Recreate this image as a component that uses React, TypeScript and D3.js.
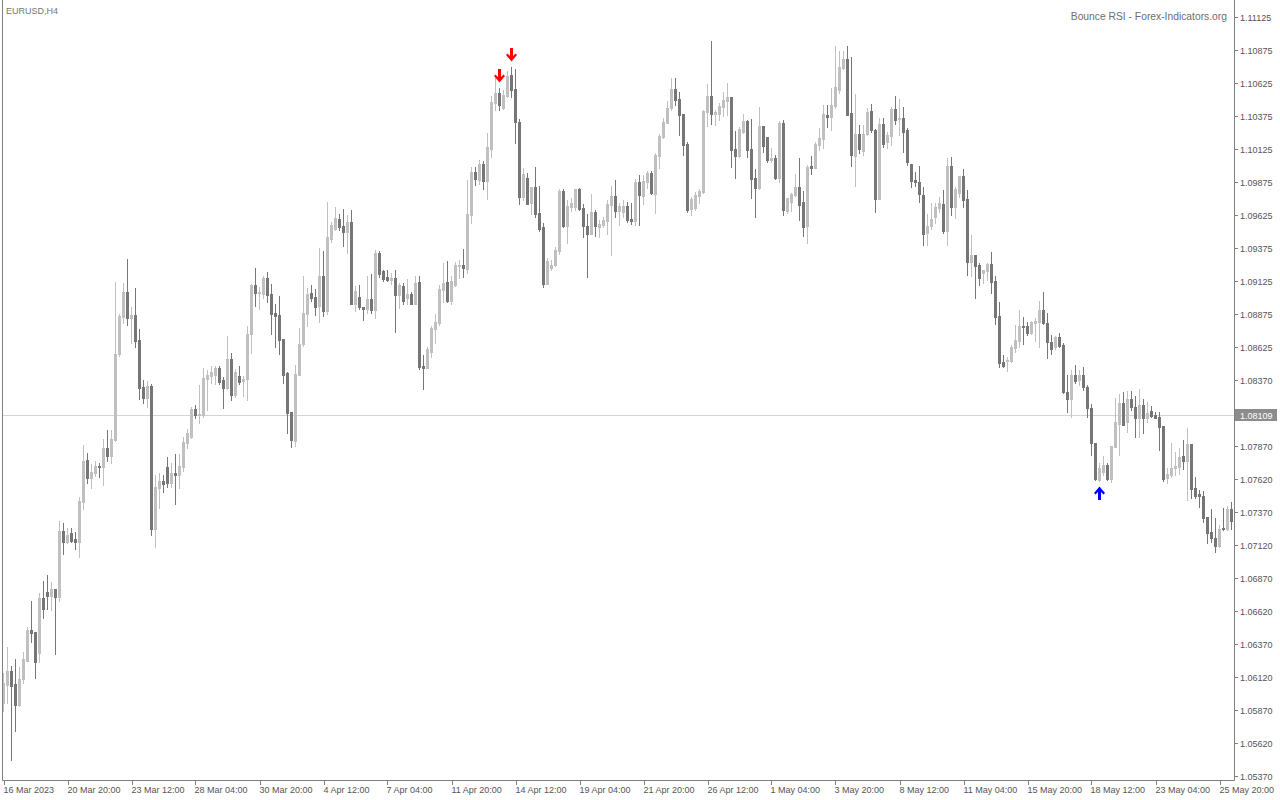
import * as d3 from 'd3'

const W = 1280
const H = 800
const FRAME = { left: 2, top: 2, right: 1234, bottom: 780 }
const FONT = '"Liberation Sans", Arial, sans-serif'
const BULL = '#c0c0c0'
const BEAR = '#767676'
const AXIS = '#808080'
const TEXT = '#555555'

// EURUSD H4 candles from 16 Mar 2023 04:00, [open, high, low, close]
const candles: [number, number, number, number][] = [
  [1.05928, 1.06155, 1.05867, 1.0608], [1.06064, 1.06352, 1.05928, 1.06171], [1.06171, 1.06208, 1.05496, 1.06057], [1.06072, 1.06261, 1.05716, 1.05913],
  [1.05913, 1.06201, 1.05905, 1.0611], [1.0611, 1.06314, 1.0608, 1.06261], [1.06246, 1.06504, 1.06246, 1.06481], [1.06481, 1.06701, 1.0639, 1.06458],
  [1.06466, 1.06466, 1.06118, 1.06239], [1.06307, 1.06762, 1.06239, 1.06724], [1.06724, 1.06852, 1.06572, 1.0664], [1.06769, 1.06898, 1.0664, 1.06739],
  [1.06739, 1.06845, 1.06633, 1.06792], [1.06792, 1.06792, 1.06299, 1.06731], [1.06731, 1.07307, 1.06701, 1.07231], [1.07231, 1.07292, 1.07057, 1.07148],
  [1.07148, 1.07254, 1.0714, 1.07201], [1.07216, 1.07254, 1.07148, 1.07155], [1.07171, 1.07224, 1.07095, 1.07148], [1.07148, 1.07489, 1.07034, 1.07458],
  [1.07451, 1.07883, 1.07398, 1.07761], [1.07769, 1.07822, 1.07595, 1.07633], [1.07633, 1.07739, 1.07557, 1.07678], [1.07671, 1.07761, 1.07648, 1.07724],
  [1.07724, 1.07746, 1.0764, 1.07716], [1.07716, 1.07928, 1.0758, 1.0786], [1.0786, 1.07996, 1.07761, 1.07799], [1.07799, 1.07996, 1.07746, 1.07928],
  [1.07921, 1.09118, 1.07913, 1.08572], [1.08572, 1.08875, 1.08557, 1.0886], [1.08852, 1.0911, 1.08807, 1.09042], [1.09042, 1.09292, 1.08792, 1.08845],
  [1.08845, 1.08928, 1.08656, 1.08868], [1.08868, 1.09072, 1.08625, 1.08671], [1.08678, 1.08762, 1.08231, 1.08315], [1.08322, 1.08375, 1.08201, 1.08239],
  [1.08239, 1.08368, 1.08171, 1.0833], [1.0833, 1.08345, 1.07201, 1.07246], [1.07246, 1.07655, 1.0711, 1.07565], [1.07557, 1.07671, 1.07405, 1.0761],
  [1.0761, 1.07655, 1.07527, 1.07587], [1.07716, 1.07792, 1.07565, 1.07595], [1.07595, 1.07746, 1.07565, 1.07671], [1.07671, 1.07815, 1.07436, 1.07655],
  [1.07655, 1.07815, 1.07557, 1.07724], [1.07716, 1.07943, 1.07686, 1.07905], [1.07898, 1.08004, 1.0786, 1.07974], [1.07943, 1.08171, 1.07936, 1.08155],
  [1.08155, 1.08186, 1.08087, 1.0811], [1.0811, 1.08337, 1.08049, 1.08118], [1.0811, 1.08466, 1.08095, 1.0839], [1.08383, 1.08451, 1.08148, 1.08413],
  [1.08405, 1.08481, 1.08352, 1.08436], [1.08413, 1.08481, 1.08345, 1.08466], [1.08466, 1.08481, 1.08345, 1.0836], [1.08375, 1.08398, 1.08163, 1.08315],
  [1.08315, 1.08708, 1.08307, 1.08534], [1.08534, 1.0858, 1.08224, 1.08262], [1.08262, 1.08458, 1.08246, 1.08436], [1.08405, 1.08481, 1.08345, 1.0836],
  [1.08368, 1.08405, 1.08254, 1.08383], [1.08383, 1.08784, 1.08224, 1.08724], [1.08724, 1.09102, 1.0858, 1.09095], [1.09095, 1.09224, 1.08936, 1.09034],
  [1.09034, 1.0908, 1.08913, 1.09042], [1.09027, 1.09163, 1.08996, 1.09148], [1.09148, 1.09193, 1.08966, 1.09019], [1.09027, 1.09102, 1.08724, 1.08875],
  [1.08883, 1.08951, 1.08625, 1.0886], [1.08868, 1.09012, 1.08572, 1.08678], [1.08686, 1.08686, 1.08352, 1.08413], [1.08428, 1.08436, 1.07974, 1.08125],
  [1.08133, 1.08133, 1.07868, 1.07921], [1.07913, 1.08489, 1.07875, 1.08421], [1.08413, 1.08769, 1.08413, 1.08648], [1.08648, 1.09163, 1.08633, 1.08883],
  [1.08875, 1.09072, 1.08784, 1.09027], [1.09034, 1.09095, 1.08974, 1.08996], [1.09004, 1.09065, 1.08868, 1.08928], [1.08936, 1.09375, 1.08815, 1.09163],
  [1.09163, 1.09352, 1.0886, 1.08898], [1.08898, 1.09724, 1.08875, 1.09459], [1.09443, 1.09572, 1.09421, 1.09549], [1.09519, 1.09686, 1.09512, 1.09602],
  [1.09595, 1.09633, 1.09512, 1.09534], [1.09542, 1.09671, 1.0939, 1.09496], [1.09496, 1.09625, 1.09337, 1.09572], [1.09572, 1.09663, 1.08951, 1.08951],
  [1.08951, 1.09087, 1.08898, 1.09049], [1.09004, 1.09095, 1.08913, 1.08928], [1.08928, 1.08928, 1.0883, 1.08913], [1.08913, 1.09163, 1.08883, 1.08989],
  [1.08989, 1.09178, 1.08883, 1.08905], [1.08905, 1.0936, 1.08845, 1.09337], [1.09337, 1.09352, 1.09155, 1.09178], [1.09201, 1.09209, 1.09125, 1.0914],
  [1.09155, 1.09209, 1.09125, 1.09133], [1.09133, 1.09186, 1.09102, 1.09148], [1.09148, 1.09209, 1.08739, 1.09019], [1.09019, 1.0911, 1.08921, 1.09095],
  [1.09087, 1.0911, 1.08951, 1.08974], [1.08996, 1.0914, 1.08951, 1.09027], [1.09027, 1.09042, 1.08951, 1.08951], [1.08951, 1.09163, 1.08951, 1.0911],
  [1.09118, 1.09163, 1.08458, 1.08474], [1.08481, 1.08565, 1.08307, 1.08466], [1.08466, 1.08625, 1.08466, 1.0861], [1.08587, 1.08784, 1.08549, 1.08769],
  [1.08762, 1.08875, 1.08656, 1.08815], [1.08807, 1.09095, 1.08792, 1.09065], [1.09057, 1.09262, 1.08966, 1.0911], [1.09118, 1.09277, 1.08966, 1.08974],
  [1.08974, 1.09163, 1.08951, 1.09125], [1.09095, 1.09269, 1.09087, 1.09246], [1.09239, 1.09284, 1.09148, 1.09246], [1.09246, 1.09368, 1.09155, 1.09224],
  [1.09216, 1.0989, 1.09186, 1.09633], [1.09625, 1.09989, 1.09565, 1.09951], [1.09951, 1.09989, 1.09852, 1.09898], [1.0989, 1.10042, 1.0986, 1.10012],
  [1.10012, 1.10034, 1.09822, 1.09883], [1.09883, 1.10246, 1.09746, 1.1014], [1.10125, 1.10527, 1.10065, 1.10481], [1.10474, 1.10671, 1.10421, 1.1055],
  [1.1055, 1.10587, 1.10421, 1.10459], [1.10436, 1.10572, 1.10428, 1.10534], [1.10527, 1.10716, 1.10519, 1.10678], [1.10686, 1.10746, 1.10519, 1.10572],
  [1.1058, 1.10731, 1.10171, 1.1033], [1.1033, 1.10353, 1.09709, 1.09762], [1.09762, 1.09981, 1.09739, 1.09936], [1.09906, 1.09943, 1.09709, 1.09709],
  [1.09716, 1.09837, 1.09633, 1.09837], [1.09837, 1.09989, 1.0961, 1.09633], [1.0964, 1.09845, 1.09504, 1.09519], [1.09534, 1.09565, 1.0908, 1.09102],
  [1.09102, 1.09299, 1.09102, 1.09277], [1.09224, 1.09284, 1.09209, 1.09246], [1.09246, 1.09383, 1.09239, 1.0936], [1.09352, 1.09822, 1.0933, 1.09807],
  [1.09807, 1.09822, 1.09534, 1.09542], [1.09542, 1.09739, 1.09413, 1.09693], [1.09686, 1.09754, 1.09655, 1.09716], [1.09686, 1.09822, 1.09663, 1.09822],
  [1.09822, 1.0983, 1.09663, 1.09671], [1.09678, 1.09709, 1.09459, 1.09542], [1.09542, 1.09633, 1.09155, 1.09481], [1.09481, 1.09784, 1.09481, 1.09648],
  [1.09648, 1.09663, 1.09466, 1.09542], [1.09534, 1.09587, 1.09459, 1.09557], [1.09549, 1.0961, 1.09534, 1.09587], [1.0958, 1.09739, 1.09481, 1.09709],
  [1.09701, 1.09845, 1.09322, 1.09769], [1.09769, 1.0989, 1.0961, 1.09655], [1.09655, 1.09716, 1.09549, 1.09693], [1.09648, 1.09739, 1.0961, 1.09693],
  [1.09693, 1.09724, 1.09572, 1.09587], [1.09595, 1.09716, 1.09557, 1.0958], [1.0958, 1.09898, 1.09549, 1.09875], [1.09875, 1.09928, 1.09549, 1.09777],
  [1.09769, 1.09928, 1.09709, 1.09883], [1.09875, 1.09959, 1.0983, 1.09943], [1.09943, 1.09959, 1.09784, 1.09792], [1.09784, 1.10095, 1.0964, 1.1008],
  [1.10072, 1.10239, 1.09981, 1.10224], [1.10216, 1.1036, 1.10209, 1.1033], [1.10322, 1.10489, 1.10322, 1.10436], [1.10436, 1.10663, 1.10421, 1.1058],
  [1.1058, 1.10663, 1.10459, 1.10496], [1.10504, 1.10557, 1.10231, 1.10383], [1.1039, 1.1039, 1.1008, 1.10156], [1.10163, 1.10178, 1.09648, 1.09663],
  [1.09671, 1.09762, 1.09625, 1.09746], [1.09678, 1.09799, 1.09663, 1.09777], [1.09769, 1.09822, 1.09716, 1.09807], [1.09799, 1.10421, 1.09792, 1.10413],
  [1.10406, 1.10618, 1.10299, 1.10527], [1.10527, 1.10943, 1.10315, 1.1039], [1.1039, 1.10421, 1.10307, 1.10406], [1.1039, 1.10474, 1.10345, 1.10451],
  [1.10443, 1.10557, 1.10375, 1.10496], [1.10489, 1.10625, 1.10383, 1.10519], [1.10519, 1.10519, 1.09989, 1.10118], [1.10125, 1.10262, 1.09906, 1.10072],
  [1.10072, 1.10292, 1.10065, 1.10277], [1.10254, 1.1039, 1.10246, 1.10337], [1.10337, 1.10345, 1.10065, 1.10118], [1.10125, 1.10353, 1.09754, 1.09898],
  [1.09906, 1.09974, 1.0961, 1.0983], [1.0983, 1.10443, 1.09822, 1.10299], [1.10299, 1.10299, 1.10102, 1.10148], [1.10216, 1.10216, 1.10027, 1.10042],
  [1.10042, 1.10133, 1.10027, 1.10057], [1.10057, 1.1008, 1.09898, 1.09906], [1.09906, 1.10337, 1.09875, 1.10322], [1.10322, 1.10345, 1.09625, 1.09663],
  [1.09655, 1.09754, 1.0964, 1.09754], [1.09724, 1.09792, 1.09655, 1.09784], [1.09777, 1.09936, 1.09769, 1.09837], [1.09837, 1.10057, 1.09587, 1.09701],
  [1.09724, 1.09807, 1.09466, 1.09534], [1.09542, 1.10004, 1.09413, 1.09989], [1.09996, 1.10072, 1.09936, 1.09981], [1.09981, 1.10178, 1.09981, 1.10163],
  [1.10156, 1.10284, 1.10118, 1.10209], [1.10201, 1.10459, 1.10133, 1.1039], [1.10383, 1.10459, 1.10292, 1.10368], [1.10368, 1.10587, 1.10269, 1.10459],
  [1.10451, 1.10906, 1.10436, 1.10595], [1.10572, 1.10868, 1.1055, 1.10746], [1.10739, 1.10868, 1.10731, 1.10807], [1.10807, 1.10906, 1.10383, 1.10383],
  [1.10398, 1.10822, 1.09996, 1.1008], [1.10072, 1.10542, 1.09845, 1.10239], [1.10239, 1.10307, 1.10095, 1.10125], [1.1011, 1.10307, 1.1008, 1.10239],
  [1.10239, 1.10436, 1.10231, 1.10406], [1.10413, 1.10466, 1.10254, 1.10269], [1.10269, 1.10277, 1.09648, 1.09746], [1.09746, 1.1036, 1.09746, 1.10315],
  [1.10315, 1.1036, 1.1014, 1.10163], [1.10178, 1.10254, 1.10133, 1.10231], [1.10224, 1.10443, 1.10156, 1.10428], [1.10428, 1.10527, 1.10315, 1.10345],
  [1.10352, 1.10504, 1.10231, 1.1036], [1.1036, 1.10443, 1.10102, 1.10254], [1.10269, 1.10284, 1.10004, 1.10027], [1.10011, 1.10011, 1.09837, 1.09883],
  [1.0989, 1.09951, 1.09845, 1.09875], [1.09875, 1.09996, 1.09724, 1.09784], [1.09777, 1.09837, 1.09398, 1.09481], [1.09489, 1.09633, 1.09398, 1.09542],
  [1.09542, 1.09716, 1.09519, 1.09595], [1.0961, 1.09716, 1.09565, 1.09686], [1.09678, 1.09762, 1.09648, 1.09716], [1.09709, 1.09815, 1.09489, 1.09504],
  [1.09504, 1.10057, 1.09398, 1.09996], [1.09996, 1.10065, 1.09625, 1.09686], [1.09686, 1.09837, 1.09602, 1.09822], [1.09792, 1.09921, 1.09762, 1.09921],
  [1.09921, 1.09974, 1.09686, 1.09739], [1.09746, 1.09815, 1.09171, 1.09269], [1.09269, 1.09474, 1.09163, 1.09322], [1.09322, 1.09322, 1.08996, 1.09239],
  [1.09246, 1.09262, 1.09095, 1.09148], [1.09186, 1.09209, 1.0911, 1.09209], [1.09201, 1.09262, 1.09133, 1.09254], [1.09254, 1.09345, 1.09034, 1.09118],
  [1.09125, 1.09163, 1.088, 1.08852], [1.0886, 1.08966, 1.08474, 1.08504], [1.08511, 1.08565, 1.08474, 1.08481], [1.08519, 1.08549, 1.08443, 1.08527],
  [1.08519, 1.0864, 1.08511, 1.08625], [1.08618, 1.08792, 1.08587, 1.08678], [1.08671, 1.08905, 1.08625, 1.08784], [1.08784, 1.08852, 1.08648, 1.08777],
  [1.08784, 1.08815, 1.08716, 1.08731], [1.08731, 1.08822, 1.08724, 1.08815], [1.08807, 1.08845, 1.08671, 1.08822], [1.08815, 1.08974, 1.08625, 1.08905],
  [1.08905, 1.09042, 1.088, 1.08807], [1.08807, 1.08883, 1.08542, 1.08663], [1.08663, 1.08716, 1.08572, 1.0861], [1.08625, 1.08708, 1.0861, 1.08701],
  [1.08701, 1.08731, 1.08625, 1.08633], [1.0864, 1.08656, 1.08277, 1.08284], [1.08284, 1.08413, 1.08133, 1.08231], [1.08231, 1.08451, 1.08095, 1.08413],
  [1.08413, 1.08489, 1.08352, 1.08368], [1.08375, 1.08451, 1.08337, 1.08413], [1.08413, 1.08474, 1.08299, 1.08322], [1.08322, 1.08337, 1.08095, 1.08163],
  [1.08163, 1.08193, 1.07807, 1.07898], [1.07898, 1.07898, 1.07618, 1.07625], [1.07618, 1.07746, 1.0761, 1.07708], [1.07678, 1.07799, 1.07655, 1.07731],
  [1.07731, 1.07746, 1.07618, 1.07625], [1.07625, 1.07875, 1.07602, 1.07875], [1.07868, 1.08239, 1.07868, 1.08057], [1.08042, 1.08269, 1.07807, 1.08201],
  [1.08201, 1.08284, 1.08034, 1.08034], [1.08057, 1.08292, 1.07981, 1.08231], [1.08231, 1.08292, 1.08148, 1.08171], [1.08171, 1.08254, 1.07943, 1.08087],
  [1.08087, 1.08307, 1.07943, 1.08186], [1.08186, 1.08231, 1.07974, 1.08087], [1.08087, 1.08208, 1.08057, 1.08125], [1.0814, 1.08178, 1.08095, 1.08102],
  [1.0811, 1.08133, 1.08087, 1.08087], [1.08095, 1.08133, 1.07845, 1.08019], [1.08027, 1.08027, 1.0761, 1.07625], [1.07633, 1.07708, 1.07595, 1.07663],
  [1.07655, 1.07898, 1.0764, 1.07708], [1.07708, 1.0783, 1.07655, 1.07724], [1.07716, 1.0786, 1.07663, 1.07792], [1.07799, 1.07921, 1.07701, 1.07761],
  [1.07761, 1.08012, 1.07466, 1.0789], [1.0789, 1.0789, 1.07481, 1.07549], [1.07557, 1.0764, 1.07481, 1.07496], [1.07512, 1.07542, 1.07413, 1.07496],
  [1.07496, 1.07534, 1.07299, 1.0733], [1.07337, 1.07337, 1.0714, 1.07216], [1.07224, 1.07398, 1.07148, 1.07178], [1.07178, 1.0733, 1.07072, 1.07118],
  [1.07118, 1.07277, 1.0711, 1.07246], [1.07254, 1.07405, 1.07239, 1.07246], [1.07246, 1.07421, 1.07239, 1.07398], [1.07398, 1.07451, 1.07246, 1.07307],
]

// one time label every 16 bars
const timeLabels = [
  '16 Mar 2023', '20 Mar 20:00', '23 Mar 12:00', '28 Mar 04:00', '30 Mar 20:00', '4 Apr 12:00', '7 Apr 04:00',
  '11 Apr 20:00', '14 Apr 12:00', '19 Apr 04:00', '21 Apr 20:00', '26 Apr 12:00', '1 May 04:00', '3 May 20:00',
  '8 May 12:00', '11 May 04:00', '15 May 20:00', '18 May 12:00', '23 May 04:00', '25 May 20:00',
]
const LABEL_EVERY = 16

const priceLabels = [
  '1.11125', '1.10875', '1.10625', '1.10375', '1.10125', '1.09875', '1.09625', '1.09375', '1.09125', '1.08875', '1.08625', '1.08370',
  '1.07870', '1.07620', '1.07370', '1.07120', '1.06870', '1.06620', '1.06370', '1.06120', '1.05870', '1.05620', '1.05370',
]
const priceLevels = [
  1.11125, 1.10875, 1.10625, 1.10375, 1.10125, 1.09875, 1.09625, 1.09375, 1.09125, 1.08875, 1.08625, 1.08375,
  1.07875, 1.07625, 1.07375, 1.07125, 1.06875, 1.06625, 1.06375, 1.06125, 1.05875, 1.05625, 1.05375,
]
const bidPrice = 1.08109

// Bounce RSI signal bars
const sellSignals = [124, 127]
const buySignals = [274]

const x = d3.scaleLinear().domain([0, candles.length - 1]).range([3.5, 3.5 + 4 * (candles.length - 1)])
const y = d3.scaleLinear().domain([1.05375, 1.11125]).range([776, 17])

// thick wingdings-like arrow, tip at (0,0) pointing down
function arrowPath(cx: number, tipY: number, dir: 1 | -1) {
  const pts = [
    [-1.5, -13], [1.5, -13], [1.5, -5], [4, -7.5], [5.5, -6], [0, 0.5], [-5.5, -6], [-4, -7.5], [-1.5, -5],
  ]
  return 'M' + pts.map(([px, py]) => `${cx + px},${tipY + py * dir}`).join('L') + 'Z'
}

export default function App() {
  const bidY = Math.round(y(bidPrice)) + 0.5
  return (
    <svg
      width={W}
      height={H}
      style={{ position: 'absolute', left: 0, top: 0, display: 'block', background: '#fff' }}
      fontFamily={FONT}
    >
      <defs>
        <clipPath id="plot">
          <rect x={FRAME.left + 1} y={0} width={FRAME.right - FRAME.left - 1} height={FRAME.bottom} />
        </clipPath>
      </defs>
      <rect width={W} height={H} fill="#fff" />

      <line x1={FRAME.left} x2={FRAME.right} y1={bidY} y2={bidY} stroke="#d4d4d4" />

      <g clipPath="url(#plot)">
        {candles.map(([o, h, l, c], i) => {
          const cx = x(i)
          const col = c >= o ? BULL : BEAR
          const yH = Math.round(y(h))
          const yL = Math.round(y(l))
          const yO = Math.round(y(o))
          const yC = Math.round(y(c))
          const top = Math.min(yO, yC)
          return (
            <g key={i} fill={col}>
              <rect x={cx - 0.5} y={yH} width={1} height={yL - yH + 1} />
              <rect x={cx - 1.5} y={top} width={3} height={Math.abs(yO - yC) + 1} />
            </g>
          )
        })}
        {sellSignals.map((i) => (
          <path key={'s' + i} d={arrowPath(x(i), Math.round(y(candles[i][1])) - 6, 1)} fill="#ff0000" />
        ))}
        {buySignals.map((i) => (
          <path key={'b' + i} d={arrowPath(x(i), Math.round(y(candles[i][2])) + 6, -1)} fill="#0000ff" />
        ))}
      </g>

      {/* frame: left, right (price axis) and bottom (time axis) */}
      <path
        d={`M${FRAME.left + 0.5},0V${FRAME.bottom + 0.5}H${FRAME.right + 0.5}V0`}
        fill="none"
        stroke={AXIS}
      />

      {/* price axis */}
      {priceLevels.map((p, k) => {
        const ty = Math.round(y(p)) + 0.5
        return (
          <g key={k}>
            <line x1={FRAME.right} x2={FRAME.right + 4} y1={ty} y2={ty} stroke={AXIS} />
            <text x={FRAME.right + 6} y={ty + 3.5} fontSize={9} fill={TEXT}>
              {priceLabels[k]}
            </text>
          </g>
        )
      })}
      <rect x={FRAME.right + 1} y={bidY - 6.5} width={42} height={12} fill="#8c8c8c" />
      <text x={FRAME.right + 6} y={bidY + 3.5} fontSize={9} fill="#fff">
        {bidPrice.toFixed(5)}
      </text>

      {/* time axis */}
      {timeLabels.map((t, k) => {
        const tx = Math.round(x(k * LABEL_EVERY)) + 0.5
        return (
          <g key={t}>
            <line x1={tx} x2={tx} y1={FRAME.bottom} y2={FRAME.bottom + 5} stroke={AXIS} />
            <text x={tx - 1} y={FRAME.bottom + 13} fontSize={9} fill={TEXT}>
              {t}
            </text>
          </g>
        )
      })}

      <text x={6} y={14} fontSize={9} fill="#777">
        EURUSD,H4
      </text>
      <text x={1227} y={20} fontSize={10.3} fill="#6e6e6e" textAnchor="end">
        Bounce RSI - Forex-Indicators.org
      </text>
    </svg>
  )
}
